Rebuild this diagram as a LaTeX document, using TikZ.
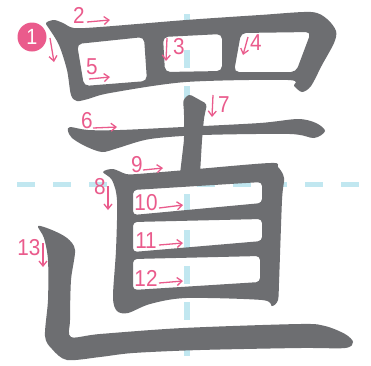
\documentclass[tikz,border=0pt]{standalone}
\usepackage{fontspec}
\setmainfont{Liberation Sans}[FakeStretch=0.9]
\usetikzlibrary{arrows.meta}
\definecolor{ink}{HTML}{6D6E71}
\definecolor{pk}{HTML}{EA5B8C}
\definecolor{guide}{HTML}{C1E7F0}
\tikzset{
  lab/.style={text=pk, font=\fontsize{23}{23}\selectfont, inner sep=0pt},
  arr/.style={draw=pk, line width=1.3pt, -{Straight Barb[length=5pt,width=8pt]}},
  guideline/.style={draw=guide, line width=5.5pt, dash pattern=on 18pt off 18pt},
  stroke/.style={fill=ink},
}
\begin{document}
\begin{tikzpicture}[x=1pt,y=-1pt]
\useasboundingbox (0,0) rectangle (371,365);
\fill[white] (0,0) rectangle (371,365);
% guide lines
\draw[guideline] (17,184.5) -- (359,184.5);
\draw[guideline] (187,14) -- (187,356);
% strokes 1-5 (top part)
\fill[stroke, even odd rule]
  plot[smooth cycle, tension=0.5] coordinates {(46,23) (54,20) (63,23) (74,28) (100,27) (186,20) (260,15) (311,12) (327,19) (336,31) (334,43) (322,65) (311,86) (302,92) (294,86) (288,80) (186,82) (110,93) (88,99) (77,101) (71,95) (67,70) (59,45) (50,30)}
  [rounded corners=5pt]
  (77,44) -- (144,37) -- (147,81) -- (84,86) -- cycle
  (163,37) -- (222,34) -- (222,71) -- (165,72) -- cycle
  (241,33) -- (311,32) -- (296,72) -- (234,72) -- cycle;
% stroke 6
\fill[stroke] plot[smooth cycle, tension=0.5] coordinates {(70,127) (88,130) (120,130) (183,127) (260,123) (298,119) (316,123) (325,131) (314,138) (290,134) (203,135) (150,139) (118,148) (102,152) (85,146) (72,138) (68,131)};
% stroke 7
\fill[stroke, rounded corners=3pt] (183,100) -- (189,94) -- (207,104) -- (204,118) -- (202,140) -- (200,174) -- (180,174) -- (184,140) -- (184,112) -- cycle;
% strokes 8-12
\fill[stroke, even odd rule]
  plot[smooth cycle, tension=0.5] coordinates {(103,172) (113,169) (126,174) (137,174) (186,170) (270,163) (278,167) (284,178) (282,200) (279,283) (278,300) (272,306) (262,300) (186,298) (150,304) (128,313) (117,311) (113,297) (116,250) (117,200) (112,180)}
  [rounded corners=4pt]
  (133,190) -- (262,182) -- (262,203) -- (133,215) -- cycle
  (133,222) -- (262,219) -- (262,241) -- (133,252) -- cycle
  (133,259) -- (260,256) -- (260,282) -- (133,290) -- cycle;
% stroke 13
\fill[stroke] plot[smooth cycle, tension=0.5] coordinates {(38,226) (52,230) (67,238) (75,250) (71,280) (70,320) (71,337) (100,334) (183,328) (300,324) (325,326) (345,334) (353,342) (345,348) (300,348) (200,350) (133,353) (100,357) (67,360) (52,349) (45,336) (48,300) (48,260) (44,238)};
% labels
\node[circle, fill=pk, minimum size=29pt, inner sep=0pt, text=white, font=\fontsize{22}{22}\selectfont] (l1) at (32,37) {1};
\node[lab] (l2) at (79,15) {2};
\node[lab] (l3) at (179,47) {3};
\node[lab] (l4) at (256,43) {4};
\node[lab] (l5) at (92,67) {5};
\node[lab] (l6) at (87,121) {6};
\node[lab] (l7) at (224,105) {7};
\node[lab] (l8) at (100,187) {8};
\node[lab] (l9) at (137,165) {9};
\node[lab] (l10) at (146,203) {10};
\node[lab] (l11) at (146,241) {11};
\node[lab] (l12) at (146,278) {12};
\node[lab] (l13) at (29,248) {13};
% arrows
\draw[arr] (50,38) -- (54,62);
\draw[arr] (87,22) -- (110,20);
\draw[arr] (167,38) -- (166,61);
\draw[arr] (248,37) -- (243,55);
\draw[arr] (89,79) -- (110,77);
\draw[arr] (93,128) -- (117,127);
\draw[arr] (213,95) -- (212,117);
\draw[arr] (108,186) -- (108,210);
\draw[arr] (143,170) -- (163,168);
\draw[arr] (159,208) -- (183,205);
\draw[arr] (159,245) -- (183,243);
\draw[arr] (159,283) -- (183,281);
\draw[arr] (43,243) -- (43,267);
\end{tikzpicture}
\end{document}
